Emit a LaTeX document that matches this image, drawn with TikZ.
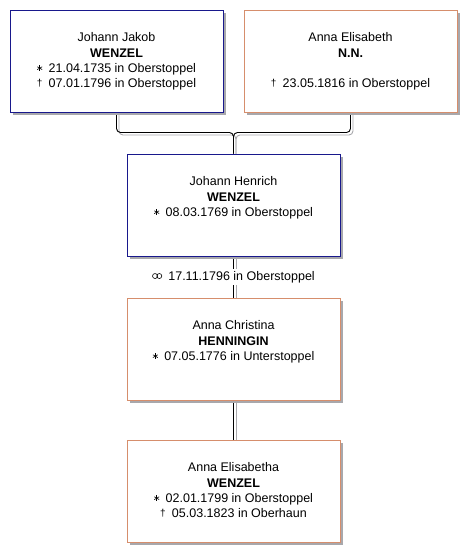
\documentclass[tikz,border=0pt]{standalone}
\usepackage{fontspec}
\setmainfont{Liberation Sans}
\usetikzlibrary{positioning,shadows,backgrounds,calc}

\definecolor{boxblue}{RGB}{24,24,140}
\definecolor{boxorange}{RGB}{214,142,108}
\definecolor{shadowgray}{RGB}{168,168,172}

\newcommand\born{\tikz[baseline=0pt, x=1pt, y=1pt, line width=0.6pt]{\foreach \a in {90,30,150} \draw (3,4.2)+(\a:2.8) -- +(\a+180:2.8);}\enspace}
\newcommand\died{\raisebox{1pt}[8pt][0pt]{\fontsize{10}{10}\selectfont †}\enspace}
\newcommand\wedsym{\tikz[baseline=0pt, x=1pt, y=1pt, line width=0.6pt]{\draw (2.7,4.2) circle (2.5); \draw (7,4.2) circle (2.5);}}

\begin{document}
\begin{tikzpicture}[
  x=1pt, y=1pt,
  font=\fontsize{12.5}{15.3}\selectfont,
  person/.style ={rectangle, draw, line width=1pt, fill=white, inner sep=0pt,
                  minimum width=213pt, minimum height=102pt,
                  drop shadow={shadow xshift=3pt, shadow yshift=-3pt, fill=shadowgray, opacity=1}},
  male/.style   ={person, draw=boxblue},
  female/.style ={person, draw=boxorange},
  txt/.style    ={align=center, inner sep=0pt},
  link/.style   ={draw=black, line width=0.9pt, rounded corners=4pt,
                  preaction={draw=shadowgray, line width=0.9pt, transform canvas={shift={(2.5pt,-2.5pt)}}}},
  node distance=41pt and 20pt
]
\useasboundingbox (0,0) rectangle (476,-558);

% ---- Parents -----------------------------------------------------------------
\node[male] (jakob) at (116.5,-61) {};
\node[female, right=of jakob] (elis) {};

% ---- Son, his wife, their daughter -------------------------------------------
\node[male, below=of $(jakob.south)!0.5!(elis.south)$] (henrich) {};
\node[female, below=of henrich] (christina) {};
\node[female, below=39pt of christina] (anna) {};

% ---- Box texts -----------------------------------------------------------------
\node[txt, below=23pt of jakob.north] (jakobtxt)
  {Johann Jakob\\ \textbf{WENZEL}\\ \born 21.04.1735 in Oberstoppel\\ \died 07.01.1796 in Oberstoppel};
\node[txt, below=23pt of elis.north] (elistxt)
  {Anna Elisabeth\\ \textbf{N.N.}\\ \mbox{}\\ \died 23.05.1816 in Oberstoppel};
\node[txt, below=23pt of henrich.north] (henrichtxt)
  {Johann Henrich\\ \textbf{WENZEL}\\ \born 08.03.1769 in Oberstoppel};
\node[txt, below=23pt of christina.north] (christinatxt)
  {Anna Christina\\ \textbf{HENNINGIN}\\ \born 07.05.1776 in Unterstoppel};
\node[txt, below=23pt of anna.north] (annatxt)
  {Anna Elisabetha\\ \textbf{WENZEL}\\ \born 02.01.1799 in Oberstoppel\\ \died 05.03.1823 in Oberhaun};

% ---- Lines -------------------------------------------------------------------
\begin{scope}[on background layer]
  \draw[link] (jakob.south) -- ++(0,-20) -| (henrich.north);
  \draw[link] (elis.south) -- ++(0,-20) -| (henrich.north);
  \draw[link] (henrich.south) -- (christina.north)
    node[midway, txt, fill=white, inner sep=2pt] (wed) {\wedsym\enspace 17.11.1796 in Oberstoppel};
  \draw[link] (christina.south) -- (anna.north);
\end{scope}

\end{tikzpicture}
\end{document}
